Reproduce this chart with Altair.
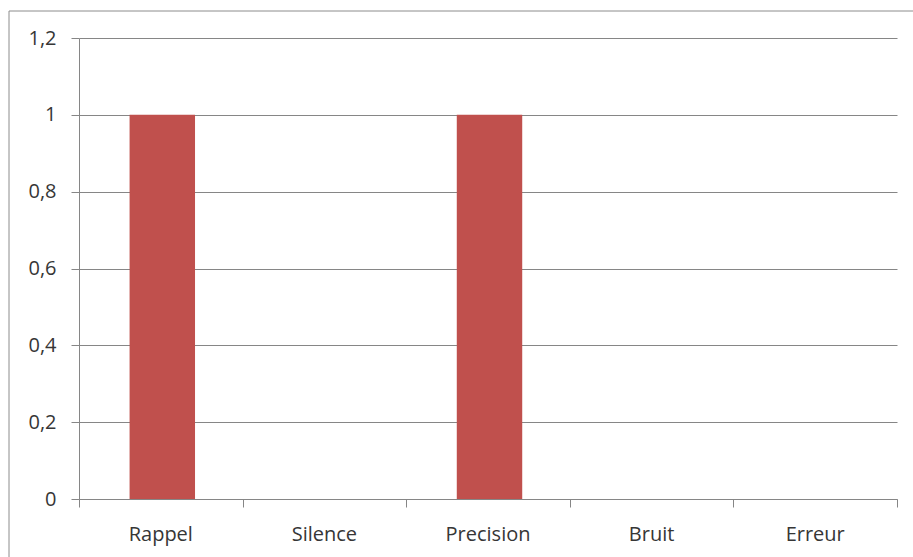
import altair as alt
import pandas as pd

# Indicateurs d'évaluation et leurs scores
categories = ["Rappel", "Silence", "Precision", "Bruit", "Erreur"]
values = [1, 0, 1, 0, 0]
y_ticks = [0, 0.2, 0.4, 0.6, 0.8, 1.0, 1.2]
boundaries = [0, 1, 2, 3, 4, 5]

FONT = "Open Sans"
FONT_SIZE = 20
TEXT = "#363636"
LINE = "#868686"
FRAME = "#8c8c8c"
BAR = "#C0504D"

bars_df = pd.DataFrame({"indicateur": categories, "valeur": values})
bounds_df = pd.DataFrame({"limite": boundaries})
one_df = pd.DataFrame({"cadre": [0]})

bars = alt.Chart(bars_df).mark_bar(color=BAR, width={"band": 0.4}, xOffset=1.5).encode(
    x=alt.X(
        "indicateur:N",
        sort=categories,
        scale=alt.Scale(paddingInner=0, paddingOuter=0),
        axis=alt.Axis(
            title=None, labelAngle=0, ticks=False, domain=True,
            domainColor=LINE, domainWidth=1,
            labelBaseline="alphabetic", labelPadding=41,
            labelFont=FONT, labelFontSize=FONT_SIZE, labelColor=TEXT,
        ),
    ),
    y=alt.Y(
        "valeur:Q",
        scale=alt.Scale(domain=[0, 1.2], nice=False),
        axis=alt.Axis(
            values=y_ticks, title=None, grid=True, gridColor=LINE, gridWidth=1,
            tickSize=8, tickColor=LINE, domainColor=LINE,
            labelExpr="replace(format(datum.value, '~g'), '.', ',')",
            labelPadding=15, labelFont=FONT, labelFontSize=FONT_SIZE, labelColor=TEXT,
        ),
    ),
)

# Graduations aux limites des catégories
ticks = alt.Chart(bounds_df).mark_point(opacity=0).encode(
    x=alt.X(
        "limite:Q",
        scale=alt.Scale(domain=[0, 5], nice=False, zero=False),
        axis=alt.Axis(
            values=boundaries, labels=False, title=None, domain=False,
            grid=False, tickSize=8, tickColor=LINE, orient="bottom",
        ),
    ),
)

# Cadre de la zone de graphique
frame_top = alt.Chart(one_df).mark_rule(color=FRAME, strokeWidth=1).encode(
    x=alt.value(-70), x2=alt.value(900), y=alt.value(-27)
)
frame_left = alt.Chart(one_df).mark_rule(color=FRAME, strokeWidth=1).encode(
    x=alt.value(-70), y=alt.value(-27), y2=alt.value(600)
)

chart = (
    alt.layer(frame_top, frame_left, bars, ticks)
    .resolve_scale(x="independent")
    .properties(
        width=818,
        height=461,
        padding={"left": 79, "top": 38, "right": 16, "bottom": 58},
        autosize=alt.AutoSizeParams(type="none"),
        background="white",
    )
    .configure_view(stroke=None)
)

chart.save("out.html", embed_options={"renderer": "svg", "actions": False})
